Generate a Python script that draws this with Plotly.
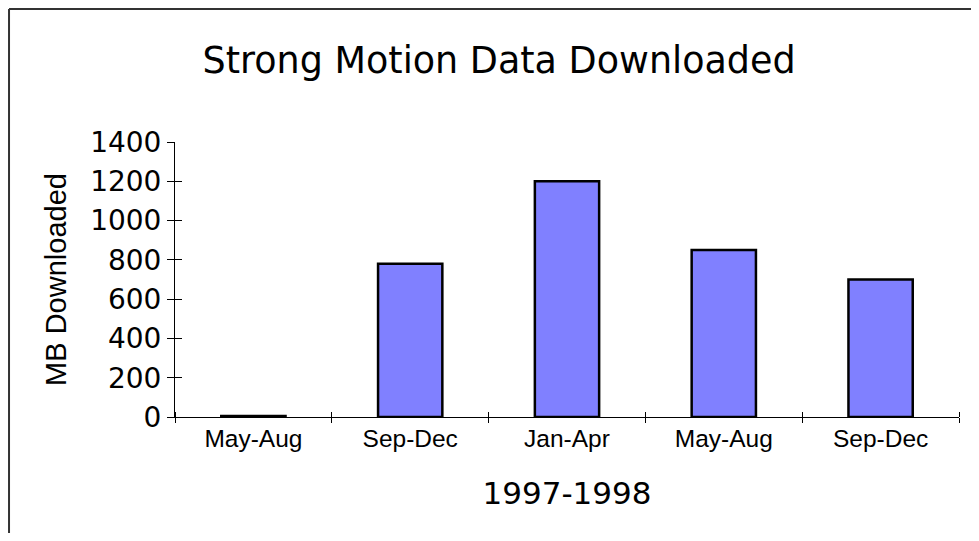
import plotly.graph_objects as go

periods = ["May-Aug", "Sep-Dec", "Jan-Apr", "May-Aug", "Sep-Dec"]
mb_downloaded = [5, 780, 1200, 850, 700]
y_ticks = [0, 200, 400, 600, 800, 1000, 1200, 1400]

pos = list(range(len(periods)))
verdana = "DejaVu Sans, Verdana, sans-serif"
arial = "Liberation Sans, Arial, sans-serif"

fig = go.Figure()
fig.add_trace(go.Bar(x=pos, y=mb_downloaded, width=0.41,
                     marker=dict(color="#8080FF", line=dict(color="black", width=2.5)),
                     hoverinfo="skip"))
# invisible copy on overlay axes, only there to draw the inner half of the cross ticks
fig.add_trace(go.Scatter(x=pos, y=mb_downloaded, xaxis="x2", yaxis="y2", mode="markers",
                         marker=dict(opacity=0), hoverinfo="skip", showlegend=False))

# frame around the chart: only its top and left edges are inside the picture
frame = dict(color="#333333", width=2)

fig.update_layout(
    width=963, height=525,
    margin=dict(l=167, r=12, t=134, b=116),
    paper_bgcolor="white", plot_bgcolor="white",
    showlegend=False,
    title=dict(text="Strong Motion Data Downloaded", x=0.51, xref="container", xanchor="center",
               y=0.901, yref="container", yanchor="middle",
               font=dict(family=verdana, size=36.5, color="black")),
    xaxis=dict(range=[-0.5, 4.5], tickmode="array", tickvals=pos, ticktext=periods,
               ticks="", showgrid=False, zeroline=False,
               showline=True, linecolor="black", linewidth=1,
               minor=dict(tick0=-0.5, dtick=1, ticks="outside", ticklen=5,
                          tickcolor="black", tickwidth=1, showgrid=False),
               tickfont=dict(family=arial, size=24.5, color="black"),
               title=dict(text="1997-1998", standoff=30,
                          font=dict(family=verdana, size=31, color="black"))),
    yaxis=dict(range=[0, 1400], tickmode="array", tickvals=y_ticks,
               ticks="outside", ticklen=7, tickcolor="black", tickwidth=1,
               showgrid=False, zeroline=False,
               showline=True, linecolor="black", linewidth=1,
               tickfont=dict(family=verdana, size=28, color="black"),
               title=dict(text="MB Downloaded", standoff=14,
                          font=dict(family=arial, size=29, color="black"))),
    xaxis2=dict(overlaying="x", anchor="y2", range=[-0.5, 4.5], showticklabels=False,
                showline=False, showgrid=False, zeroline=False, ticks="",
                minor=dict(tick0=-0.5, dtick=1, ticks="inside", ticklen=5,
                           tickcolor="black", tickwidth=1, showgrid=False)),
    yaxis2=dict(overlaying="y", anchor="x2", range=[0, 1400], showticklabels=False,
                showline=False, showgrid=False, zeroline=False,
                tickmode="array", tickvals=y_ticks,
                ticks="inside", ticklen=7, tickcolor="black", tickwidth=1),
    shapes=[
        dict(type="line", xref="paper", yref="paper",
             x0=-0.2117, x1=1.05, y0=1.4836, y1=1.4836, line=frame),
        dict(type="line", xref="paper", yref="paper",
             x0=-0.2117, x1=-0.2117, y0=-0.45, y1=1.4836, line=frame),
    ],
)

fig.write_html("out.html")
